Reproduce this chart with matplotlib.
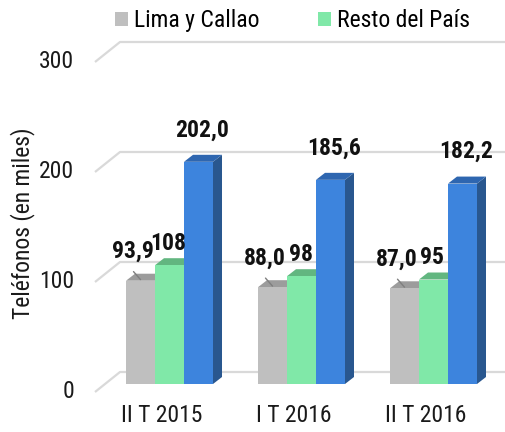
import matplotlib
matplotlib.use('Agg')
import matplotlib.pyplot as plt
from matplotlib.patches import Polygon, Patch
import matplotlib.transforms as mtransforms

categories = ['II T 2015', 'I T 2016', 'II T 2016']
lima = [93.9, 88.0, 87.0]
resto = [108, 98, 95]
total = [202.0, 185.6, 182.2]
lima_labels = ['93,9', '88,0', '87,0']
resto_labels = ['108', '98', '95']
total_labels = ['202,0', '185,6', '182,2']
yticks = [0, 100, 200, 300]
legend_names = ['Lima y Callao', 'Resto del País']

plt.rcParams['font.family'] = ['Roboto Condensed', 'Archivo Narrow', 'DejaVu Sans']
FS = 17

W, H = 505, 432
fig = plt.figure(figsize=(W / 100, H / 100), dpi=100)
ax = fig.add_axes([110 / W, 48 / H, 395 / W, 330 / H])
ax.set_xlim(-0.4508, 2.5417)
ax.set_ylim(0, 300)
ax.axis('off')

ppx = ax.transData.transform((1, 0))[0] - ax.transData.transform((0, 0))[0]
ppy = ax.transData.transform((0, 1))[1] - ax.transData.transform((0, 0))[1]
dx = 9 / ppx
dy = 7 / ppy
bw = 29 / ppx
axw = ax.get_window_extent().width

blend_xa = mtransforms.blended_transform_factory(ax.transAxes, ax.transData)
blend_xd = mtransforms.blended_transform_factory(ax.transData, ax.transAxes)

# gridlines (pseudo-3D floor/back wall)
grid_c = '#d9d9d9'
xf = -15 / axw
xb = 10 / axw
for v in yticks:
    vb = v + 12 / ppy
    vf = v - 8 / ppy
    ax.plot([xf, xb, 1.0], [vf, vb, vb], transform=blend_xa, color=grid_c,
            lw=1.6, clip_on=False, zorder=1, solid_capstyle='butt')
    ax.text(-36 / axw, vf, str(v), transform=blend_xa, ha='right', va='center',
            fontsize=FS, color='#1a1a1a')

series = [
    (lima, ('#bfbfbf', '#9c9c9c', '#8c8c8c')),
    (resto, ('#80e8a8', '#62b680', '#58a674')),
    (total, ('#3d84dd', '#2e66b0', '#29578f')),
]

for si, (vals, (cf, ct, cs)) in enumerate(series):
    xs = [i + (si - 1.5) * bw for i in range(len(vals))]
    z = 3 + si
    for xl, h in zip(xs, vals):
        ax.add_patch(Polygon([(xl + bw, 0), (xl + bw + dx, dy), (xl + bw + dx, h + dy), (xl + bw, h)],
                             closed=True, facecolor=cs, edgecolor='none', zorder=z))
        ax.add_patch(Polygon([(xl, h), (xl + bw, h), (xl + bw + dx, h + dy), (xl + dx, h + dy)],
                             closed=True, facecolor=ct, edgecolor='none', zorder=z))
    ax.bar(xs, vals, width=bw, align='edge', color=cf, edgecolor='none', zorder=z)

# data labels
for i in range(len(categories)):
    xc_l = i - bw
    ax.annotate(lima_labels[i], xy=(xc_l, lima[i]), xytext=(-8, 29), textcoords='offset pixels',
                ha='center', va='center', fontsize=FS, fontweight='bold', color='#111111', zorder=10)
    ax.annotate('', xy=(xc_l, lima[i] + 1), xytext=(-7, 8), textcoords='offset pixels',
                arrowprops=dict(arrowstyle='-', color='#7f7f7f', lw=1, shrinkA=0, shrinkB=0), zorder=10)
    ax.annotate(resto_labels[i], xy=(i, resto[i]), xytext=(-1, 22), textcoords='offset pixels',
                ha='center', va='center', fontsize=FS, fontweight='bold', color='#111111', zorder=10)
    ax.annotate(total_labels[i], xy=(i + bw, total[i]), xytext=(4, 32), textcoords='offset pixels',
                ha='center', va='center', fontsize=FS, fontweight='bold', color='#111111', zorder=10)
    ax.annotate(categories[i], xy=(i, 0), xycoords=blend_xd, xytext=(-8, -32), textcoords='offset pixels',
                ha='center', va='center', fontsize=FS, color='#1a1a1a')

fig.text(23 / W, 1 - 223 / H, 'Teléfonos (en miles)', rotation=90, ha='center', va='center',
         fontsize=FS, color='#1a1a1a')

handles = [Patch(facecolor=series[0][1][0], edgecolor='none'),
           Patch(facecolor=series[1][1][0], edgecolor='none')]
fig.legend(handles, legend_names, loc='upper left', bbox_to_anchor=(115 / W, 1 - 9 / H), ncol=2,
           frameon=False, fontsize=FS, handlelength=0.55, handleheight=0.55, handletextpad=0.25,
           columnspacing=2.5, borderpad=0, borderaxespad=0)

fig.savefig('out.png', dpi=100)
